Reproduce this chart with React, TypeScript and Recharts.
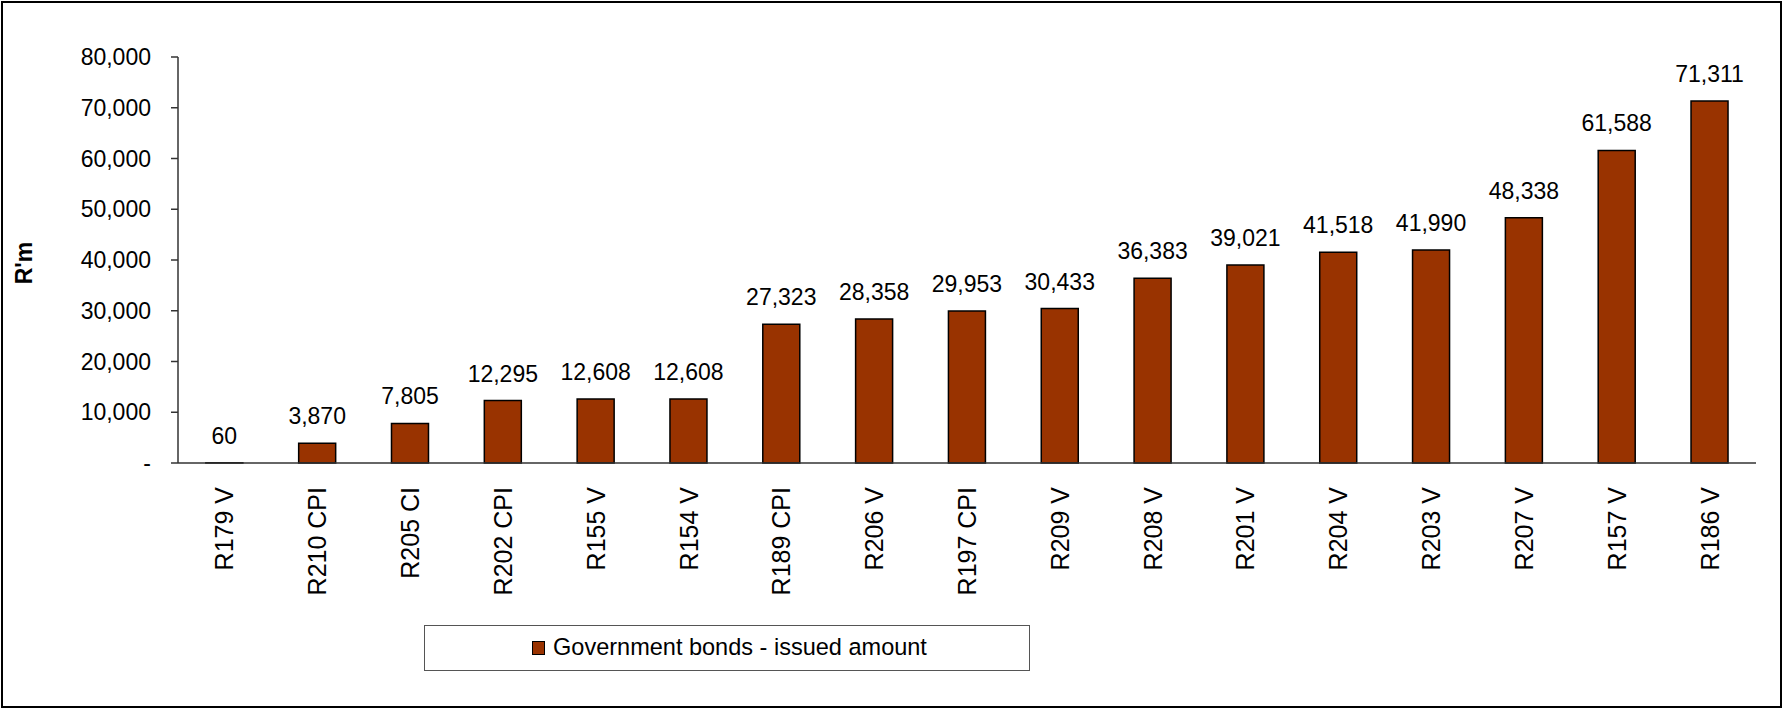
import { BarChart, Bar, XAxis, YAxis, LabelList, ReferenceArea } from "recharts";

const bonds = [
  "R179 V", "R210 CPI", "R205 CI", "R202 CPI", "R155 V", "R154 V", "R189 CPI", "R206 V", "R197 CPI",
  "R209 V", "R208 V", "R201 V", "R204 V", "R203 V", "R207 V", "R157 V", "R186 V",
];
const issuedAmount = [
  60, 3870, 7805, 12295, 12608, 12608, 27323, 28358, 29953,
  30433, 36383, 39021, 41518, 41990, 48338, 61588, 71311,
];
const yTicks = [0, 10000, 20000, 30000, 40000, 50000, 60000, 70000, 80000];
const seriesName = "Government bonds - issued amount";

const BAR_COLOR = "#993300";
const FONT = "'Liberation Sans', Arial, sans-serif";

const data = bonds.map((name, i) => ({ name, value: issuedAmount[i] }));
// category boundaries, used for the tick marks between bars
const boundaries = [...bonds.map((_, i) => i), bonds.length];

const fmt = (v: number) => (v === 0 ? "-" : v.toLocaleString("en-US"));

function XTick(props: any) {
  const { x, y, payload } = props;
  return (
    <text
      x={x}
      y={y}
      transform={`rotate(-90, ${x}, ${y})`}
      textAnchor="end"
      dy="0.36em"
      fontSize={25}
      fontFamily={FONT}
      fill="#000"
    >
      {payload.value}
    </text>
  );
}

function YLabel(props: any) {
  const { viewBox } = props;
  const cx = viewBox.x + 14;
  const cy = viewBox.y + viewBox.height / 2 + 3;
  return (
    <text
      x={cx}
      y={cy}
      transform={`rotate(-90, ${cx}, ${cy})`}
      textAnchor="middle"
      dominantBaseline="central"
      fontSize={23}
      fontWeight="bold"
      fontFamily={FONT}
      fill="#000"
    >
      R'm
    </text>
  );
}

export default function App() {
  return (
    <div style={{ position: "relative", width: 1783, height: 709, background: "#fff" }}>
      <style>{"body{margin:0}"}</style>
      <div
        style={{
          position: "absolute",
          left: 1,
          top: 1,
          width: 1781,
          height: 707,
          border: "2px solid #000",
          boxSizing: "border-box",
        }}
      />
      <BarChart
        width={1783}
        height={709}
        data={data}
        margin={{ top: 57, right: 27, bottom: 96, left: 10 }}
        barCategoryGap="30%"
      >
        <XAxis
          xAxisId="grid"
          type="number"
          domain={[0, bonds.length]}
          ticks={boundaries}
          height={0}
          axisLine={false}
          tickLine={{ stroke: "#333", strokeWidth: 1.5 }}
          tickSize={8}
          tick={() => <g />}
        />
        <XAxis
          dataKey="name"
          height={150}
          interval={0}
          axisLine={{ stroke: "#333", strokeWidth: 1.5 }}
          tickLine={false}
          tickMargin={18}
          tick={<XTick />}
        />
        <YAxis
          width={168}
          domain={[0, 80000]}
          ticks={yTicks}
          tickFormatter={fmt}
          axisLine={{ stroke: "#333", strokeWidth: 1.5 }}
          tickLine={{ stroke: "#333", strokeWidth: 1.5 }}
          tickSize={7}
          tickMargin={20}
          tick={{ fontSize: 23, fontFamily: FONT, fill: "#000" }}
          label={<YLabel />}
        />
        <ReferenceArea
          xAxisId="grid"
          x1={0}
          x2={bonds.length}
          y1={0}
          y2={80000}
          fill="none"
          stroke="#999"
          strokeWidth={2}
        />
        <Bar
          dataKey="value"
          name={seriesName}
          fill={BAR_COLOR}
          stroke="#000"
          strokeWidth={1.5}
          isAnimationActive={false}
        >
          <LabelList
            dataKey="value"
            position="top"
            offset={19}
            formatter={(v: any) => fmt(Number(v))}
            style={{ fontSize: 23, fontFamily: FONT, fill: "#000" }}
          />
        </Bar>
      </BarChart>
      {/* legend */}
      <div
        style={{
          position: "absolute",
          left: 424,
          top: 625,
          width: 606,
          height: 46,
          border: "1.5px solid #555",
          boxSizing: "border-box",
          background: "#fff",
        }}
      >
        <span
          style={{
            position: "absolute",
            left: 107,
            top: 15,
            width: 13,
            height: 14,
            background: BAR_COLOR,
            border: "1.5px solid #000",
            boxSizing: "border-box",
          }}
        />
        <span
          style={{
            position: "absolute",
            left: 128,
            top: 6,
            fontSize: 24.5,
            lineHeight: "30px",
            fontFamily: FONT,
            whiteSpace: "nowrap",
            transform: "scaleX(0.96)",
            transformOrigin: "left center",
          }}
        >
          {seriesName}
        </span>
      </div>
    </div>
  );
}
